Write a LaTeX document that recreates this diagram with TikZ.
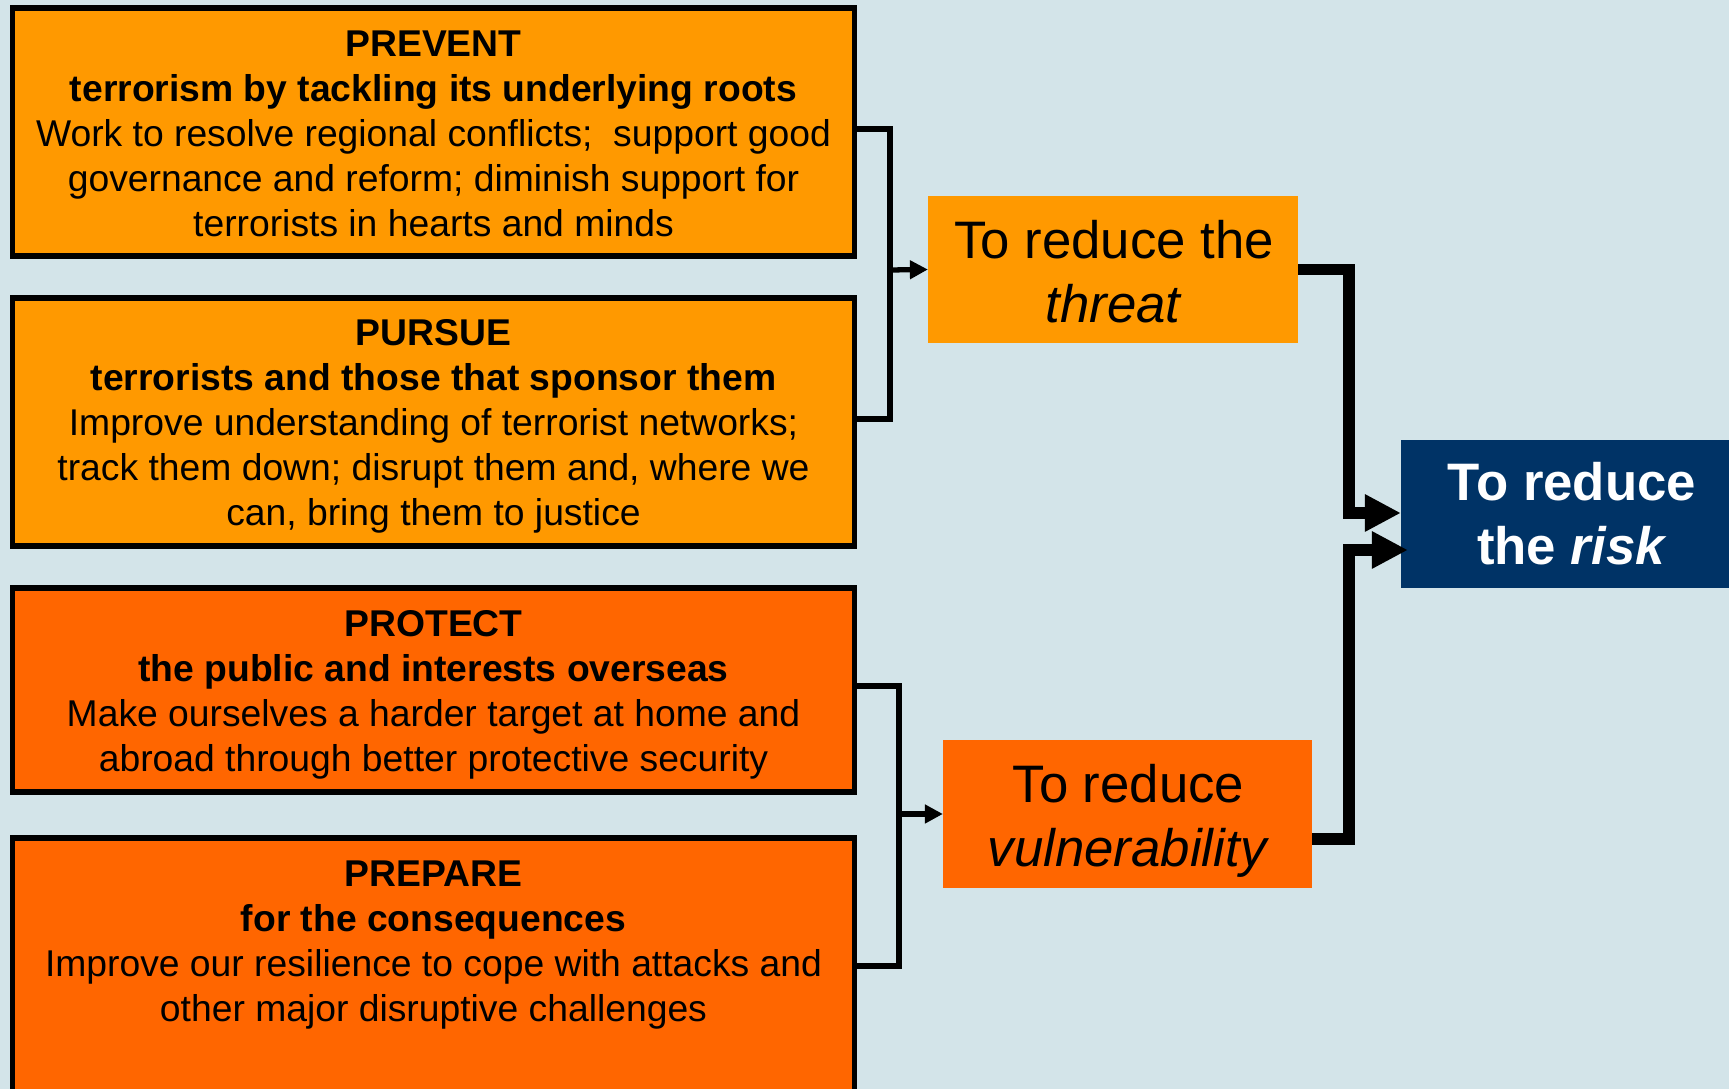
\documentclass[tikz,border=0pt]{standalone}
\usepackage{fontspec}
\setmainfont{Liberation Sans}
\usetikzlibrary{arrows.meta,calc}
\definecolor{bg}{HTML}{D3E4E9}
\definecolor{lorange}{HTML}{FF9900}
\definecolor{dorange}{HTML}{FF6600}
\definecolor{navy}{HTML}{003366}
\begin{document}
\begin{tikzpicture}[x=0.01cm,y=-0.01cm,
  strat/.style={draw=black, line width=1.56pt, minimum width=8.41cm, inner sep=0pt},
  stext/.style={inner sep=0pt, align=center, font=\fontsize{10.6}{12.8}\selectfont},
  goal/.style={inner sep=0pt, outer sep=0pt},
  gtext/.style={inner sep=0pt, align=center, font=\fontsize{15}{18.2}\selectfont},
  thinline/.style={line width=1.5pt},
  thinarrow/.style={line width=1.5pt, -{Triangle[length=0.18cm,width=0.18cm]}},
  thickarrow/.style={line width=3.4pt, -{Triangle[length=0.36cm,width=0.35cm]}}]
\useasboundingbox (0,0) rectangle (1729,1089);
\fill[bg] (0,0) rectangle (1729,1089);
\begin{scope}
\clip (0,0) rectangle (1729,1089);
\node[strat, fill=lorange, minimum height=2.48cm] (prevent) at (433.5,132) {};
\node[stext] (preventtext) at (433.5,134)
  {\textbf{PREVENT}\\\textbf{terrorism by tackling its underlying roots}\\Work to resolve regional conflicts;\ \ support good\\governance and reform; diminish support for\\terrorists in hearts and minds};
\node[strat, fill=lorange, minimum height=2.48cm] (pursue) at (433.5,422) {};
\node[stext] (pursuetext) at (433.5,426.5)
  {\textbf{PURSUE}\\\textbf{terrorists and those that sponsor them}\\Improve understanding of terrorist networks;\\track them down; disrupt them and, where we\\can, bring them to justice};
\node[strat, fill=dorange, minimum height=2.04cm] (protect) at (433.5,690) {};
\node[stext] (protecttext) at (433.5,694.5)
  {\textbf{PROTECT}\\\textbf{the public and interests overseas}\\Make ourselves a harder target at home and\\abroad through better protective security};
\node[strat, fill=dorange, minimum height=2.56cm] (prepare) at (433.5,966) {};
\node[stext] (preparetext) at (433.5,945.5)
  {\textbf{PREPARE}\\\textbf{for the consequences}\\Improve our resilience to cope with attacks and\\other major disruptive challenges};

\node[goal, fill=lorange, minimum width=3.70cm, minimum height=1.47cm] (threat) at (1113,269.5) {};
\node[gtext] (threattext) at (1114,271.5) {To reduce the\\\textit{threat}};
\node[goal, fill=dorange, minimum width=3.69cm, minimum height=1.48cm] (vuln) at (1127.5,814) {};
\node[gtext] (vulntext) at (1128.5,820.5) {To reduce\\\textit{vulnerability}};
\node[goal, fill=navy, minimum width=3.40cm, minimum height=1.48cm] (risk) at (1571,514) {};
\node[gtext, text=white, font=\fontsize{15}{18.2}\selectfont\bfseries] (risktext) at (1572,514)
  {To reduce\\the \textit{risk}};

\coordinate (j1) at (890,270);
\coordinate (j2) at (899,814);
\draw[thinline] ([yshift=0.03cm]prevent.east) -| (j1) |- ([yshift=0.03cm]pursue.east);
\draw[thinarrow] (j1) -- (threat.west);
\draw[thinline] ([yshift=0.04cm]protect.east) -| (j2) |- (prepare.east);
\draw[thinarrow] (j2) -- (vuln.west);

\coordinate (rk1) at ($(risk.west)+(0,-1)$);
\coordinate (rk2) at ($(risk.west)+(7,36)$);
\draw[thickarrow] (threat.east) -| (1349,513) -- (rk1);
\draw[thickarrow] ($(vuln.east)+(0,25)$) -| (1349,550) -- (rk2);
\end{scope}
\end{tikzpicture}
\end{document}
